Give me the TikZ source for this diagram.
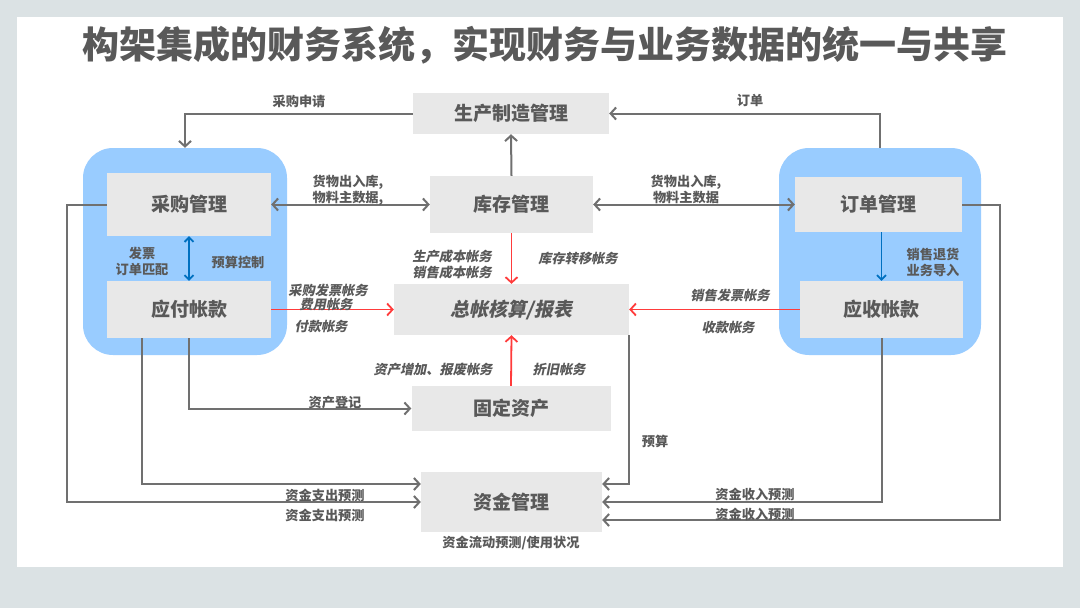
\documentclass[tikz,border=0pt]{standalone}
\usepackage{fontspec}
\setmainfont{Noto Sans CJK SC}
\newfontfamily\slfont{Noto Sans CJK SC}[FakeSlant=0.2]
\usepackage{tikz}
\usetikzlibrary{arrows.meta}
\usepackage{xcolor}
\definecolor{pagegray}{HTML}{DBE2E4}
\definecolor{boxgray}{HTML}{E8E8E8}
\definecolor{grpblue}{HTML}{99CCFF}
\definecolor{txtgray}{HTML}{595959}
\definecolor{linegray}{HTML}{707070}
\definecolor{postred}{HTML}{FF3B3B}
\definecolor{ctrlblue}{HTML}{0070C0}
\tikzset{
  >={Straight Barb[length=5.5pt,width=12pt]},
  grp/.style={fill=grpblue, rounded corners=30pt, inner sep=0pt},
  box/.style={fill=boxgray, inner sep=0pt, font=\fontsize{19}{22}\selectfont\bfseries\color{txtgray}},
  lbl/.style={inner sep=0pt, align=center, font=\fontsize{13.2}{16}\selectfont\bfseries\color{txtgray}},
  slbl/.style={lbl, font=\fontsize{13.2}{16}\selectfont\slfont\bfseries\color{txtgray}},
  flow/.style={draw=linegray, line width=2pt, ->},
  post/.style={draw=postred, line width=1.8pt, ->},
  ctrl/.style={draw=ctrlblue, line width=1.8pt, -{Straight Barb[length=4.5pt,width=9pt]}}
}
\begin{document}
\begin{tikzpicture}[x=1pt, y=-1pt]
% page
\fill[pagegray] (0,0) rectangle (1080,608);
\fill[white] (17,17) rectangle (1063,567);
\node[inner sep=0pt, font=\fontsize{37}{40}\selectfont\bfseries\color{txtgray}] (title) at (545,45) {构架集成的财务系统，实现财务与业务数据的统一与共享};

% blue groups
\node[grp, minimum width=204pt, minimum height=207pt] (lgrp) at (185,251.5) {};
\node[grp, minimum width=202pt, minimum height=207pt] (rgrp) at (880,251.5) {};

% boxes
\node[box, minimum width=164pt, minimum height=63pt] (purch) at (189,204.5) {采购管理};
\node[box, minimum width=164pt, minimum height=57pt] (pay) at (189,309.5) {应付帐款};
\node[box, minimum width=196pt, minimum height=41pt] (prod) at (511,113.5) {生产制造管理};
\node[box, minimum width=163pt, minimum height=57pt] (stock) at (511.5,204.5) {库存管理};
\node[box, minimum width=235pt, minimum height=51pt, font=\fontsize{19}{22}\selectfont\slfont\bfseries\color{txtgray}] (ledger) at (511.5,309.5) {总帐核算/报表};
\node[box, minimum width=199pt, minimum height=45pt] (asset) at (511,408.5) {固定资产};
\node[box, minimum width=181pt, minimum height=60pt] (fund) at (511.5,502) {资金管理};
\node[box, minimum width=167pt, minimum height=55pt] (order) at (878.5,204.5) {订单管理};
\node[box, minimum width=163pt, minimum height=57pt] (recv) at (881.5,309.5) {应收帐款};

% inside the groups
\draw[ctrl, {Straight Barb[length=4.5pt,width=9pt]}-{Straight Barb[length=4.5pt,width=9pt]}] (purch.south) -- (pay.north);
\draw[ctrl] (recv.north |- order.south) -- (recv.north);
\node[lbl] (invmatch) at (142,261) {发票\\订单匹配};
\node[lbl] (budctl) at (238,262) {预算控制};
\node[lbl] (salesret) at (933,262) {销售退货\\业务导入};

% grey flows
\draw[flow] (prod.west) -| (lgrp.north);
\node[lbl] (preq) at (299,101) {采购申请};
\draw[flow] (rgrp.north) |- (prod.east);
\node[lbl] (ordlbl) at (750,100) {订单};
\draw[flow] (stock.north) -- (prod.south);
\draw[flow, <->] (purch.east) -- (stock.west);
\node[lbl] (goodsl) at (348,190) {货物出入库,\\物料主数据,};
\draw[flow, <->] (stock.east) -- (order.west);
\node[lbl] (goodsr) at (686,189) {货物出入库,\\物料主数据};

% red postings
\draw[post] (stock.south) -- (ledger.north);
\node[slbl] (costacc) at (452,264) {生产成本帐务\\销售成本帐务};
\node[slbl] (transacc) at (578,258) {库存转移帐务};
\draw[post] (pay.east) -- (ledger.west);
\node[slbl] (pinvacc) at (328,290) {采购发票帐务};
\node[slbl] (feeacc) at (326,305) {费用帐务};
\node[slbl] (payacc) at (321,327) {付款帐务};
\draw[post] (recv.west) -- (ledger.east);
\node[slbl] (sinvacc) at (730,295) {销售发票帐务};
\node[slbl] (rcvacc) at (728,328) {收款帐务};
\draw[post] (asset.north) -- (ledger.south);
\node[slbl] (addacc) at (433,370) {资产增加、报废帐务};
\node[slbl] (depacc) at (559,370) {折旧帐务};

% towards assets and funds
\draw[flow] (pay.south) |- (asset.west);
\node[lbl] (areg) at (335,403) {资产登记};
\draw[flow] ([xshift=-47pt]pay.south) |- ([yshift=18pt]fund.west);
\node[lbl] (outf1) at (325,495) {资金支出预测};
\draw[flow] (purch.west) -- ++(-40,0) |- (fund.west);
\node[lbl] (outf2) at (325,515) {资金支出预测};
\draw[flow] (ledger.south east) |- ([yshift=18pt]fund.east);
\node[lbl] (budget) at (655,441) {预算};
\draw[flow] (recv.south) |- (fund.east);
\node[lbl] (inf1) at (755,494) {资金收入预测};
\draw[flow] (order.east) -- ++(38,0) |- ([yshift=-18pt]fund.east);
\node[lbl] (inf2) at (755,514) {资金收入预测};
\node[lbl] (fundst) at (511,543) {资金流动预测/使用状况};
\end{tikzpicture}
\end{document}
